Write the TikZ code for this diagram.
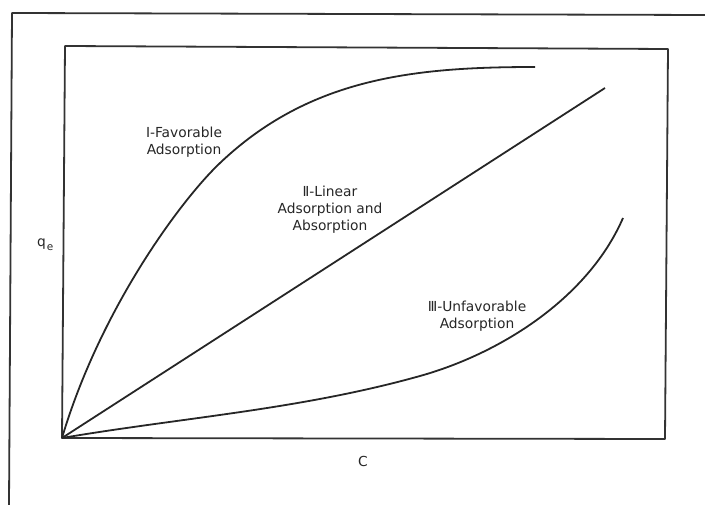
\documentclass[tikz,border=0pt]{standalone}
\usepackage{fontspec}
\setmainfont{DejaVu Sans}
\usetikzlibrary{positioning}
\tikzstyle{plotframe} =
        [
                line width = 1.8pt,
                draw = black!80,
                line join = round
        ]
\tikzstyle{isotherm} =
        [
                line width = 1.8pt,
                draw = black!85,
                line join = round
        ]
\tikzstyle{caption} =
        [
                align = center,
                text = black!85,
                inner sep = 0pt,
                font = \fontsize{13.8}{17}\selectfont
        ]

\begin{document}
\begin{tikzpicture}[x = 1pt, y = -1pt]
    \useasboundingbox (0,0) rectangle (705,505);
    % outer frame, open at the right and bottom
    \draw [plotframe] (705,15) -- (12,13) -- (9,505);
    % plot box
    \draw [plotframe] (65,46) -- (668,49) -- (665,439) -- (62,438) -- cycle;
    \coordinate (origin) at (62,438);
    \coordinate (favorable-bend) at (220,163);
    \coordinate (favorable-end) at (535,67);
    \coordinate (linear-end) at (605,88);
    \coordinate (unfavorable-bend) at (420,376);
    \coordinate (unfavorable-end) at (623,218);
    % isotherms
    \draw [isotherm] (origin) .. controls (100,310) and (180,201) .. (favorable-bend)
        .. controls (310,77.5) and (415,67) .. (favorable-end);
    \draw [isotherm] (origin) -- (linear-end);
    \draw [isotherm] (origin) .. controls (182,417.6) and (300,409.6) .. (unfavorable-bend)
        .. controls (500,353.6) and (588,298.5) .. (unfavorable-end);
    % labels
    \node [caption] (favorable) at (184,142) {Ⅰ-Favorable\\Adsorption};
    \node [caption] (linear) at (330,210) {Ⅱ-Linear\\Adsorption and\\Absorption};
    \node [caption] (unfavorable) at (477,316) {Ⅲ-Unfavorable\\Adsorption};
    \node [caption, anchor = base west] (qe) at (37,247)
        {q\kern1pt\raisebox{-4pt}{\fontsize{10.5}{10.5}\selectfont e}};
    \node [caption] (c) at (363,461) {C};
\end{tikzpicture}
\end{document}
